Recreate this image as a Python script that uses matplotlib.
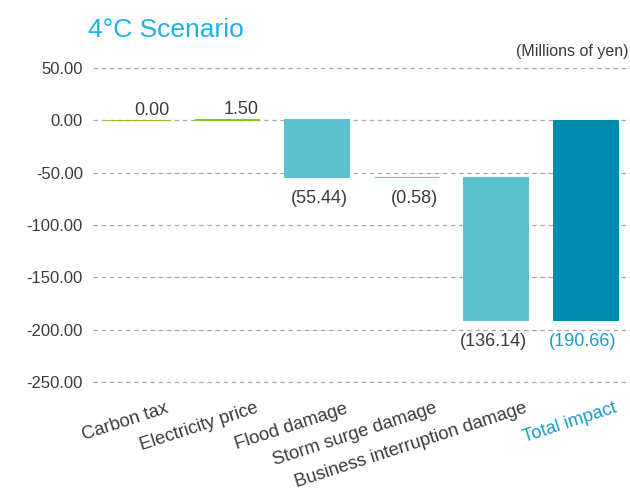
import matplotlib.pyplot as plt

plt.rcParams['font.family'] = ['Liberation Sans', 'DejaVu Sans']

# data (millions of yen)
categories = ['Carbon tax', 'Electricity price', 'Flood damage',
              'Storm surge damage', 'Business interruption damage']
changes = [0.00, 1.50, -55.44, -0.58, -136.14]
total_label = 'Total impact'
total_value = -190.66
y_ticks = [50, 0, -50, -100, -150, -200, -250]
y_tick_labels = ['50.00', '0.00', '-50.00', '-100.00', '-150.00', '-200.00', '-250.00']

TEXT = '#3e3a39'
GREEN = '#8cc21f'
LIGHT = '#5cc1cf'
DARK = '#008caf'
TITLE = '#1db2e6'
TOTAL_TXT = '#1a9cc4'


def fmt(v):
    return f'{v:.2f}' if v >= 0 else f'({-v:.2f})'


fig = plt.figure(figsize=(6.3, 4.93), dpi=100)
ax = fig.add_axes([92.7 / 630, 1 - 392.5 / 493, 537.3 / 630, 330 / 493])

# waterfall bottoms
bottoms = []
running = 0.0
for c in changes:
    bottoms.append(running)
    running += c

names = categories + [total_label]
heights = changes + [total_value]
bases = bottoms + [0.0]
colors = [GREEN if h >= 0 else LIGHT for h in changes] + [DARK]

x = list(range(len(names)))
width = 0.725
ax.bar(x, heights, bottom=bases, width=width, color=colors,
       edgecolor=colors, linewidth=0.7, zorder=3)

# value labels, right aligned to bar edge
for i, (h, b) in enumerate(zip(heights, bases)):
    col = TOTAL_TXT if i == len(names) - 1 else TEXT
    if h >= 0:
        ax.annotate(fmt(h), (i + width / 2 - 0.01, b + h), xytext=(0, 3.6),
                    textcoords='offset points', ha='right', va='baseline',
                    fontsize=13, color=col)
    else:
        ax.annotate(fmt(h), (i + width / 2 - 0.01, b + h), xytext=(0, -15.5),
                    textcoords='offset points', ha='right', va='center',
                    fontsize=13, color=col)

# category labels
for i, name in enumerate(names):
    col = TOTAL_TXT if i == len(names) - 1 else TEXT
    ax.text(i + 0.36, -279, name, rotation=18, rotation_mode='anchor',
            ha='right', va='baseline', fontsize=13.2, color=col, clip_on=False)

ax.set_xlim(-0.5, 5.5)
ax.set_ylim(-260, 55)
ax.set_xticks([])
ax.set_yticks(y_ticks)
ax.set_yticklabels(y_tick_labels, fontsize=12, color=TEXT)
ax.tick_params(axis='y', length=0, pad=7)
for s in ax.spines.values():
    s.set_visible(False)
ax.grid(axis='y', color='#a8a8a8', linestyle=(0, (3.6, 2.9)), linewidth=0.9, zorder=0)
ax.set_axisbelow(True)

fig.text(88 / 630, 1 - 37 / 493, '4\u00b0C Scenario', fontsize=19, color=TITLE,
         ha='left', va='baseline')
fig.text(628 / 630, 1 - 56 / 493, '(Millions of yen)', fontsize=11.5, color=TEXT,
         ha='right', va='baseline')

fig.savefig('out.png', dpi=100)
